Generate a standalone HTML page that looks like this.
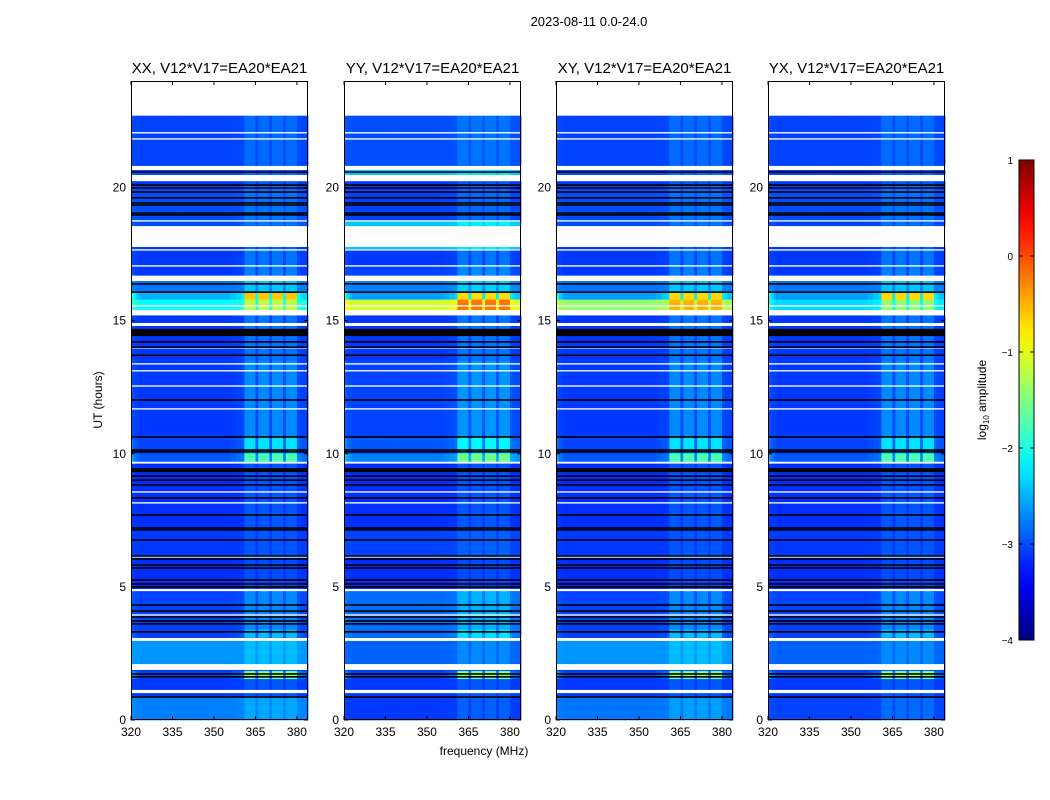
<!DOCTYPE html>
<html><head><meta charset="utf-8"><style>
html,body{margin:0;padding:0;background:#fff;}
svg{display:block;font-family:"Liberation Sans",sans-serif;}
</style></head><body>
<svg id="fig" width="1050" height="800" viewBox="0 0 1050 800">
<text x="589" y="26" font-size="13" text-anchor="middle">2023-08-11 0.0-24.0</text>
<text x="484" y="755" font-size="12" text-anchor="middle">frequency (MHz)</text>
<text transform="translate(102,400) rotate(-90)" font-size="12" text-anchor="middle">UT (hours)</text>
<text transform="translate(986,400) rotate(-90)" font-size="12" text-anchor="middle">log<tspan font-size="8" dy="3">10</tspan><tspan dy="-3"> amplitude</tspan></text>
</svg>
<script>
// ---- data ----
const panelTitles = ["XX, V12*V17=EA20*EA21","YY, V12*V17=EA20*EA21","XY, V12*V17=EA20*EA21","YX, V12*V17=EA20*EA21"];
const xTicks = [320,335,350,365,380];
const yTicks = [0,5,10,15,20];
const cbTicks = [1,0,-1,-2,-3,-4];
// frequency channel boosts (1 MHz channels, 320..383)
const chanBoost = [0.3,0.15,0.05,0,0,0,0,0,0,0, 0,0,0,0,0,0,0,0,0,0, 0,0,0,0,0,0,0,0,0,0, 0,0,0,0,0,0,0.05,0.05,0.1,0.1,
  0.15,1.0,1.0,1.0,1.0,0.2,1.0,1.0,1.0,1.0, 0.2,1.0,1.0,1.0,1.0,0.2,1.0,1.0,1.0,1.0, 0.2,0.15,0.1,0.1];
// data segments: start hour, end hour, levels XX, YY, XY, YX, rfi gain
const segStart = [0,0.9,1.55,1.85,2.1,3.08,3.4,4.9,6.1,7.2,9.7,10.0,10.6,13.5,15.4,15.8,16.1,16.7,17.05,17.7,18.55,18.75,20.1,20.47,20.81];
const segEnd   = [0.9,1.55,1.85,2.1,3.0,3.4,4.9,6.1,7.2,9.7,10.0,10.6,13.5,15.2,15.8,16.1,16.5,17.05,17.7,17.77,18.75,20.1,20.24,20.66,22.7];
const levelXX  = [-2.75,-3.1,-3.05,-3.1,-2.65,-3.05,-3.05,-3.15,-3.1,-3.15,-2.95,-3.05,-3.1,-3.1,-2.1,-2.5,-2.8,-3.1,-3.1,-3.1,-3.0,-3.0,-3.1,-3.0,-3.05];
const levelYY  = [-3.1,-3.1,-3.05,-3.1,-2.9,-2.85,-2.85,-3.15,-3.05,-3.15,-2.75,-2.95,-3.05,-3.1,-1.1,-2.6,-2.75,-3.05,-3.1,-2.4,-2.4,-3.05,-3.1,-2.4,-3.0];
const levelXY  = [-2.8,-3.1,-3.05,-3.1,-2.65,-3.05,-3.05,-3.15,-3.1,-3.15,-2.95,-3.05,-3.1,-3.1,-1.4,-2.6,-2.8,-3.1,-3.1,-3.1,-3.0,-3.0,-3.1,-3.0,-3.05];
const levelYX  = [-3.05,-3.1,-3.05,-3.1,-2.9,-3.05,-3.05,-3.15,-3.1,-3.15,-2.95,-3.05,-3.1,-3.1,-2.3,-2.6,-2.8,-3.1,-3.1,-3.1,-3.05,-3.0,-3.1,-3.05,-3.05];
const rfiGain  = [0.2,0.15,1.6,0.15,0.2,0.6,0.35,0.15,0.15,0.2,1.2,0.8,0.4,0.3,0.9,1.9,0.4,0.35,0.3,0.2,0.2,0.2,0.15,0.15,0.2];
// flagged (white) intervals
const whiteStart = [22.7,22.03,21.8,20.66,20.24,18.72,17.77,17.63,17.03,16.49,15.53,15.2,14.8,13.95,13.35,13.09,12.52,11.66,9.63,8.54,8.13,6.1,4.84,3.92,2.97,1.88,1.01];
const whiteEnd   = [24,22.08,21.85,20.81,20.47,18.77,18.55,17.68,17.08,16.68,15.58,15.4,14.91,14.0,13.4,13.14,12.57,11.71,9.7,8.59,8.18,6.15,4.92,3.97,3.08,2.1,1.13];
// dark (black) lines
const blackHour = [20.58,20.09,19.98,19.83,19.61,19.42,19.34,19.04,18.97,16.38,16.07,14.2,14.0,13.7,12.02,10.63,10.14,10.07,9.16,9.01,8.83,8.34,7.7,7.21,7.14,6.76,6.16,6.05,5.82,5.71,5.26,5.11,5.0,4.32,4.09,3.87,3.72,3.61,3.31,1.73,1.62,0.86];
const blackThick = [14.42,14.69, 9.31,9.46];

// ---- layout ----
const NS="http://www.w3.org/2000/svg";
const svg=document.getElementById('fig');
const panelX=[131,344,556,768], PW=177, PY=81, PH=639;
const levels=[levelXX,levelYY,levelXY,levelYX];
const yS=h=>PY+PH-h*PH/24;
function jet(v){const t=Math.max(0,Math.min(1,(v+4)/5));
 const c=x=>Math.round(255*Math.max(0,Math.min(1,1.5-Math.abs(x))));
 return `rgb(${c(4*t-3)},${c(4*t-2)},${c(4*t-1)})`;}
function mk(tag,attrs,parent){const e=document.createElementNS(NS,tag);for(const k in attrs)e.setAttribute(k,attrs[k]);(parent||svg).appendChild(e);return e;}

panelX.forEach((x0,p)=>{
 const xS=f=>x0+(f-320)*PW/64;
 const g=mk('g',{});
 
 
 mk('rect',{x:x0,y:PY,width:PW,height:PH,fill:'#fff'},g);
 segStart.forEach((s,i)=>{
  const y1=yS(segEnd[i]), y2=yS(s);
  chanBoost.forEach((b,c)=>{
   let v=levels[p][i]+rfiGain[i]*b;
   const r=mk('rect',{x:xS(320+c).toFixed(2),y:y1.toFixed(2),width:(PW/64+0.4).toFixed(2),height:(y2-y1+0.3).toFixed(2),fill:jet(v)},g);
   
   
  });
 });
 whiteStart.forEach((s,i)=>{
  const r=mk('rect',{x:x0,y:yS(whiteEnd[i]),width:PW,height:Math.max(1.2,yS(s)-yS(whiteEnd[i])),fill:'#fff'},g);
  
  
 });
 blackHour.forEach(h=>{
  const r=mk('rect',{x:x0,y:yS(h)-0.8,width:PW,height:1.6,fill:'#000'},g);
  
  
 });
 for(let i=0;i<blackThick.length;i+=2){
  const r=mk('rect',{x:x0,y:yS(blackThick[i+1]),width:PW,height:yS(blackThick[i])-yS(blackThick[i+1]),fill:'#000'},g);
  
  
 }
 const fr=mk('rect',{x:x0+0.5,y:PY+0.5,width:PW-1,height:PH-1,fill:'none',stroke:'#000','stroke-width':1},g);
 
 
 const t=mk('text',{x:x0+PW/2,y:73,'font-size':15,'text-anchor':'middle'},g);
 t.textContent=panelTitles[p];
 
 
 xTicks.forEach(f=>{
  const x=xS(f);
  mk('line',{x1:x,x2:x,y1:PY+PH,y2:PY+PH-4,stroke:'#000'},g);
  mk('line',{x1:x,x2:x,y1:PY,y2:PY+4,stroke:'#000'},g);
  const l=mk('text',{x:x,y:PY+PH+16,'font-size':12,'text-anchor':'middle'},g);
  l.textContent=f;
  
  
 });
 yTicks.forEach(h=>{
  const y=yS(h);
  mk('line',{x1:x0,x2:x0+4,y1:y,y2:y,stroke:'#000'},g);
  mk('line',{x1:x0+PW,x2:x0+PW-4,y1:y,y2:y,stroke:'#000'},g);
  const l=mk('text',{x:x0-5,y:y+4,'font-size':12,'text-anchor':'end'},g);
  l.textContent=h;
  
  
 });
});

// colorbar
const defs=mk('defs',{});
const lg=mk('linearGradient',{id:'jetg',x1:0,y1:1,x2:0,y2:0},defs);
for(let i=0;i<=20;i++){mk('stop',{offset:i/20,'stop-color':jet(-4+5*i/20)},lg);}
const cb=mk('rect',{x:1019,y:160,width:15,height:480,fill:'url(#jetg)',stroke:'#000','stroke-width':1});


const cbY=v=>640-(v+4)*96;
cbTicks.forEach(v=>{
 const y=cbY(v);
 mk('line',{x1:1019,x2:1023,y1:y,y2:y,stroke:'#000'});
 mk('line',{x1:1034,x2:1030,y1:y,y2:y,stroke:'#000'});
 const l=mk('text',{x:1013,y:y+4,'font-size':10,'text-anchor':'end'});
 l.textContent=v<0?'\u2212'+(-v):String(v);
 
 
});
</script>
</body></html>
